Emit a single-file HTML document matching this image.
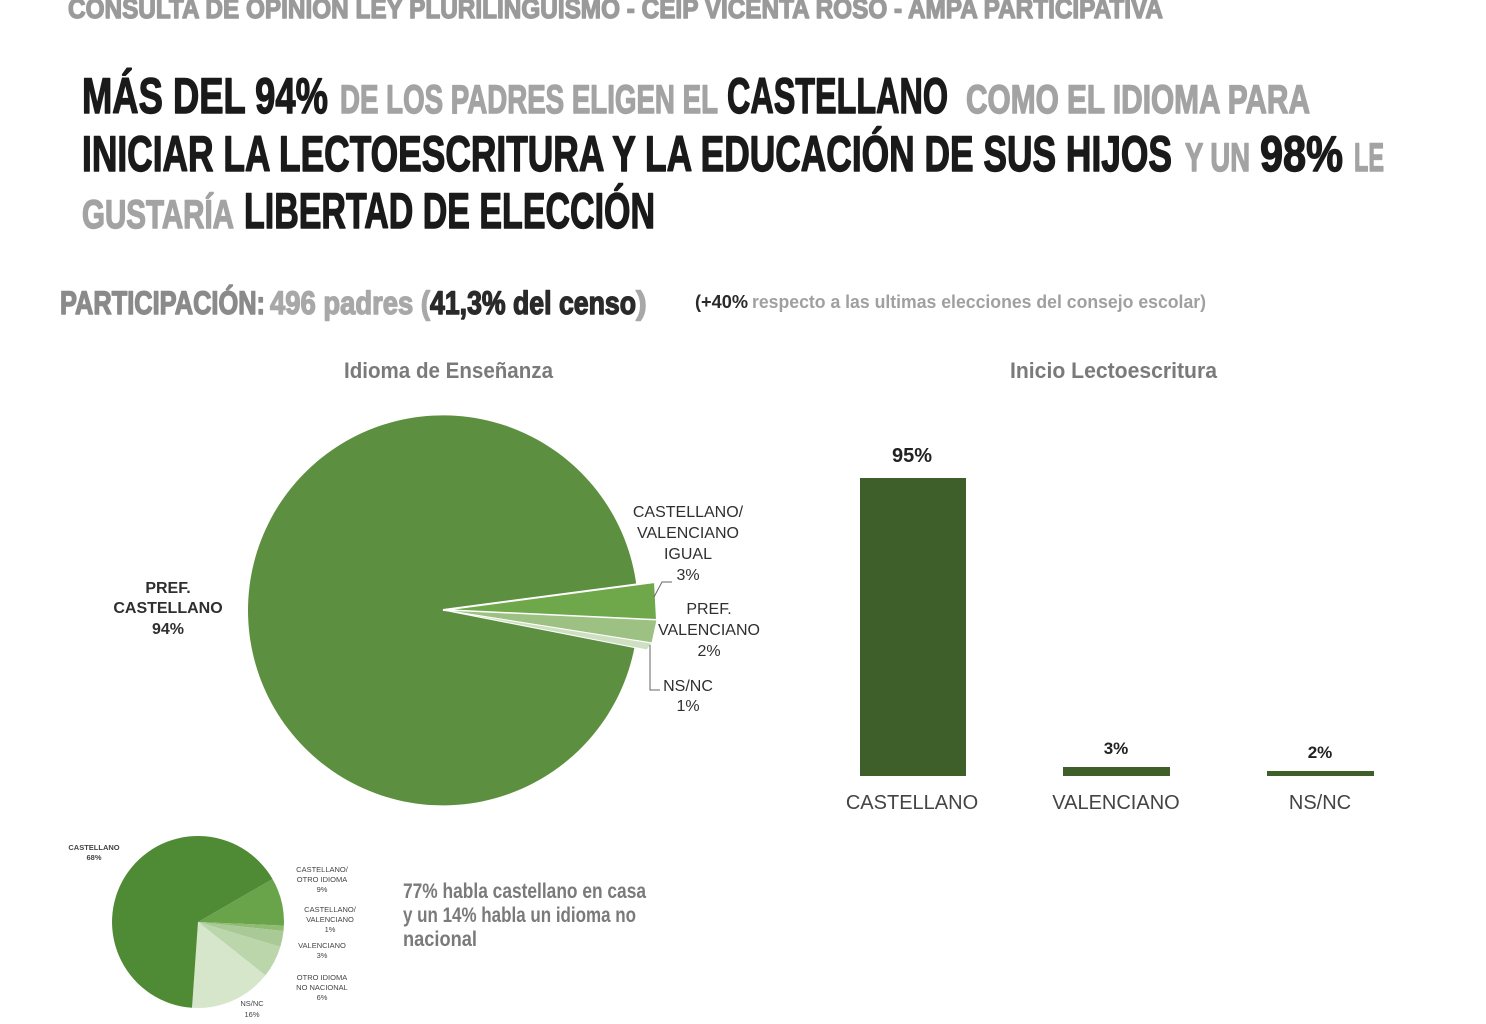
<!DOCTYPE html>
<html><head><meta charset="utf-8"><style>
html,body{margin:0;padding:0;background:#fff;width:1486px;height:1024px;overflow:hidden}
svg{display:block}
.c{font-family:"Liberation Sans Narrow","Liberation Sans",sans-serif;font-weight:bold}
.s{font-family:"Liberation Sans",sans-serif}
.h text{stroke-width:1.4;stroke-linejoin:round}
</style></head><body>
<svg width="1486" height="1024" viewBox="0 0 1486 1024" xmlns="http://www.w3.org/2000/svg">
<rect width="1486" height="1024" fill="#fff"/>
<g class="c h">
<text x="68" y="18" font-size="28" fill="#9a9a9a" stroke="#9a9a9a" textLength="1095" lengthAdjust="spacingAndGlyphs">CONSULTA DE OPINION LEY PLURILINGUISMO  - CEIP VICENTA ROSO - AMPA PARTICIPATIVA</text>
<text x="82" y="113" font-size="50" fill="#1a1a1a" stroke="#1a1a1a" textLength="246" lengthAdjust="spacingAndGlyphs">MÁS DEL 94%</text>
<text x="340" y="113" font-size="40" fill="#a3a3a3" stroke="#a3a3a3" textLength="378" lengthAdjust="spacingAndGlyphs">DE LOS PADRES ELIGEN EL</text>
<text x="727" y="113" font-size="50" fill="#1a1a1a" stroke="#1a1a1a" textLength="221" lengthAdjust="spacingAndGlyphs">CASTELLANO</text>
<text x="966" y="113" font-size="40" fill="#a3a3a3" stroke="#a3a3a3" textLength="344" lengthAdjust="spacingAndGlyphs">COMO EL IDIOMA PARA</text>
<text x="82" y="171" font-size="50" fill="#1a1a1a" stroke="#1a1a1a" textLength="1090" lengthAdjust="spacingAndGlyphs">INICIAR  LA LECTOESCRITURA  Y LA EDUCACIÓN  DE SUS HIJOS</text>
<text x="1185" y="171" font-size="40" fill="#a3a3a3" stroke="#a3a3a3" textLength="65" lengthAdjust="spacingAndGlyphs">Y UN</text>
<text x="1260" y="171" font-size="50" fill="#1a1a1a" stroke="#1a1a1a" textLength="83" lengthAdjust="spacingAndGlyphs">98%</text>
<text x="1354" y="171" font-size="40" fill="#a3a3a3" stroke="#a3a3a3" textLength="30" lengthAdjust="spacingAndGlyphs">LE</text>
<text x="82" y="228" font-size="40" fill="#a3a3a3" stroke="#a3a3a3" textLength="152" lengthAdjust="spacingAndGlyphs">GUSTARÍA</text>
<text x="244" y="228" font-size="50" fill="#1a1a1a" stroke="#1a1a1a" textLength="411" lengthAdjust="spacingAndGlyphs">LIBERTAD  DE ELECCIÓN</text>
<text x="60" y="314" font-size="32" fill="#8a8a8a" stroke="#8a8a8a" textLength="205" lengthAdjust="spacingAndGlyphs">PARTICIPACIÓN:</text>
<text x="270" y="314" font-size="32" fill="#a8a8a8" stroke="#a8a8a8" textLength="160" lengthAdjust="spacingAndGlyphs">496 padres (</text>
<text x="430" y="314" font-size="32" fill="#2a2a2a" stroke="#2a2a2a" textLength="206" lengthAdjust="spacingAndGlyphs">41,3% del censo</text>
<text x="636" y="314" font-size="32" fill="#a8a8a8" stroke="#a8a8a8">)</text>
</g>
<g class="c">
<text x="695" y="308" font-size="18" fill="#2a2a2a" textLength="53" lengthAdjust="spacingAndGlyphs">(+40%</text>
<text x="752" y="308" font-size="18" fill="#a0a0a0" textLength="454" lengthAdjust="spacingAndGlyphs">respecto a las ultimas elecciones del consejo escolar)</text>
<text x="344" y="378" font-size="22" fill="#7a7a7a" textLength="209" lengthAdjust="spacingAndGlyphs">Idioma de Enseñanza</text>
<text x="1010" y="378" font-size="22" fill="#7a7a7a" textLength="207" lengthAdjust="spacingAndGlyphs">Inicio Lectoescritura</text>
<text x="403" y="898" font-size="21" fill="#7a7a7a" textLength="243" lengthAdjust="spacingAndGlyphs">77% habla castellano en casa</text>
<text x="403" y="922" font-size="21" fill="#7a7a7a" textLength="233" lengthAdjust="spacingAndGlyphs">y un 14% habla un idioma no</text>
<text x="403" y="946" font-size="21" fill="#7a7a7a" textLength="74" lengthAdjust="spacingAndGlyphs">nacional</text>
</g>
<!-- main pie -->
<path d="M443,610 L634.5,647.2 A195,195 0 1 1 636.3,584.6 Z" fill="#5c8f3f"/>
<path d="M443,610 L655,582 L657,620 Z" fill="#6ea84a" stroke="#fff" stroke-width="2"/>
<path d="M443,610 L657,620 L652,643 Z" fill="#9cc182" stroke="#fff" stroke-width="1"/>
<path d="M443,610 L652,643 L647,650 Z" fill="#cfe0c2" stroke="#fff" stroke-width="1"/>
<g class="s" font-size="16" fill="#2f2f2f" text-anchor="middle">
<text x="168" y="593" font-weight="bold">PREF.</text>
<text x="168" y="613" font-weight="bold">CASTELLANO</text>
<text x="168" y="634" font-weight="bold">94%</text>
<text x="688" y="517">CASTELLANO/</text>
<text x="688" y="538">VALENCIANO</text>
<text x="688" y="559">IGUAL</text>
<text x="688" y="580">3%</text>
<text x="709" y="614">PREF.</text>
<text x="709" y="635">VALENCIANO</text>
<text x="709" y="656">2%</text>
<text x="688" y="691">NS/NC</text>
<text x="688" y="711">1%</text>
</g>
<path d="M654,597 L662,582 L672,582 M650,645 L650,690 L660,690" stroke="#666" fill="none"/>
<!-- bars -->
<g fill="#3f5f2a">
<rect x="860" y="478" width="106" height="298"/>
<rect x="1063" y="767" width="107" height="9"/>
<rect x="1267" y="771" width="107" height="5"/>
</g>
<g class="s" text-anchor="middle">
<text x="912" y="462" font-size="20" font-weight="bold" fill="#222">95%</text>
<text x="1116" y="754" font-size="17" font-weight="bold" fill="#222">3%</text>
<text x="1320" y="758" font-size="17" font-weight="bold" fill="#222">2%</text>
<text x="912" y="809" font-size="20" fill="#444">CASTELLANO</text>
<text x="1116" y="809" font-size="20" fill="#444">VALENCIANO</text>
<text x="1320" y="809" font-size="20" fill="#444">NS/NC</text>
</g>
<!-- small pie -->
<g transform="translate(198,922)">
<path d="M0,0 L74.5,-43 A86,86 0 0 1 85.9,3.6 Z" fill="#6aa44a"/>
<path d="M0,0 L85.9,3.6 A86,86 0 0 1 85.5,9 Z" fill="#8fbb72"/>
<path d="M0,0 L85.5,9 A86,86 0 0 1 82.3,24.9 Z" fill="#a9c996"/>
<path d="M0,0 L82.3,24.9 A86,86 0 0 1 67.4,53.4 Z" fill="#bcd6ab"/>
<path d="M0,0 L67.4,53.4 A86,86 0 0 1 -6,85.8 Z" fill="#d6e6cb"/>
<path d="M0,0 L-6,85.8 A86,86 0 1 1 74.5,-43 Z" fill="#4f8a35"/>
</g>
<g class="s" font-size="7.5" fill="#444" text-anchor="middle">
<text x="94" y="850" font-weight="bold">CASTELLANO</text><text x="94" y="860" font-weight="bold">68%</text>
<text x="322" y="872">CASTELLANO/</text><text x="322" y="882">OTRO IDIOMA</text><text x="322" y="892">9%</text>
<text x="330" y="912">CASTELLANO/</text><text x="330" y="922">VALENCIANO</text><text x="330" y="932">1%</text>
<text x="322" y="948">VALENCIANO</text><text x="322" y="958">3%</text>
<text x="322" y="980">OTRO IDIOMA</text><text x="322" y="990">NO NACIONAL</text><text x="322" y="1000">6%</text>
<text x="252" y="1006">NS/NC</text><text x="252" y="1017">16%</text>
</g>
</svg>
</body></html>
